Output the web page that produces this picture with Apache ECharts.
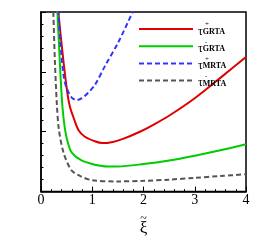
<!DOCTYPE html>
<html><head><meta charset="utf-8">
<script src="https://cdn.jsdelivr.net/npm/echarts@6/dist/echarts.min.js"></script>
<style>html,body{margin:0;padding:0;background:#fff}#c{width:273px;height:242px}</style>
</head><body><div id="c"></div>
<script>
var xTicks = [0, 1, 2, 3, 4];
var seriesNames = ['GRTA+', 'GRTA-', 'MRTA+', 'MRTA-'];
var supers = ['+', '-', '+', '-'];
var subs = ['GRTA', 'GRTA', 'MRTA', 'MRTA'];
var grtaPlus = [[0.32,3.3],[0.34,3.0],[0.40,2.48],[0.47,1.94],[0.53,1.56],[0.57,1.40],[0.65,1.20],[0.73,1.03],[0.85,0.92],[1.05,0.84],[1.2,0.81],[1.4,0.83],[1.6,0.88],[1.93,1.0],[2.2,1.12],[2.52,1.28],[3.0,1.56],[3.5,1.90],[4.0,2.25]];
var grtaMinus = [[0.30,3.4],[0.32,3.0],[0.35,2.48],[0.38,1.94],[0.42,1.40],[0.47,1.03],[0.53,0.80],[0.60,0.65],[0.79,0.52],[1.05,0.45],[1.3,0.42],[1.5,0.42],[2.0,0.46],[2.5,0.52],[3.0,0.60],[3.5,0.69],[4.0,0.79]];
var mrtaPlus = [[0.32,3.3],[0.34,3.0],[0.38,2.48],[0.44,1.94],[0.50,1.73],[0.6,1.57],[0.7,1.53],[0.8,1.56],[0.92,1.65],[1.05,1.78],[1.25,2.10],[1.5,2.48],[1.79,3.0],[1.85,3.1]];
var mrtaMinus = [[0.22,3.4],[0.24,3.0],[0.27,2.2],[0.31,1.45],[0.35,1.03],[0.44,0.65],[0.60,0.35],[0.79,0.25],[1.0,0.19],[1.5,0.17],[2.0,0.18],[2.5,0.20],[3.0,0.23],[3.5,0.26],[4.0,0.29]];

var serif = 'Liberation Serif';
var chart = echarts.init(document.getElementById('c'), null, {renderer: 'canvas'});
function mk(i, data, color, type) {
  return {name: seriesNames[i], type: 'line', data: data, showSymbol: false, symbol: 'none',
    smooth: 0.3,
    clip: true, lineStyle: {color: color, width: 2, type: type}, itemStyle: {color: color}};
}
chart.setOption({
  animation: false,
  grid: {left: 41, right: 27, top: 12, bottom: 45, show: true, borderColor: '#000', borderWidth: 1.5},
  legend: {
    orient: 'vertical', left: 133, top: 16, itemWidth: 54, itemHeight: 14, itemGap: 0.7,
    data: seriesNames,
    itemStyle: {opacity: 0},
    formatter: function (name) {
      var i = seriesNames.indexOf(name);
      return '{p|' + supers[i] + '}\n{t|τ}{s|' + subs[i] + '}';
    },
    textStyle: {
      fontFamily: serif, color: '#000',
      rich: {
        p: {fontSize: 7, lineHeight: 5, padding: [0, 0, 0, 7], fontFamily: serif, color: '#000'},
        t: {fontSize: 12, lineHeight: 9, fontFamily: serif, color: '#000'},
        s: {fontSize: 8, fontWeight: 'bold', lineHeight: 9, verticalAlign: 'bottom', fontFamily: serif, color: '#000'}
      }
    }
  },
  xAxis: {
    type: 'value', min: 0, max: 4, interval: 1,
    name: '{a|~}\n{b|ξ}', nameLocation: 'middle', nameGap: 19,
    nameTextStyle: {fontFamily: serif, color: '#000',
      rich: {a: {fontSize: 12, lineHeight: 5, fontFamily: serif, color: '#000'},
             b: {fontSize: 17, lineHeight: 15, fontFamily: serif, color: '#000'}}},
    axisLine: {lineStyle: {color: '#000', width: 1.5}},
    axisTick: {inside: true, length: 5, lineStyle: {color: '#000'}},
    minorTick: {show: true, splitNumber: 5, length: 2.5, lineStyle: {color: '#000'}},
    splitLine: {show: false},
    axisLabel: {fontFamily: serif, fontSize: 14, color: '#000', margin: 2,
      formatter: function (v) { return xTicks.indexOf(v) >= 0 ? String(v) : ''; }}
  },
  yAxis: {
    type: 'value', min: 0, max: 3, interval: 1,
    axisLine: {show: true, lineStyle: {color: '#000', width: 1.5}},
    axisTick: {show: true, inside: true, length: 5, lineStyle: {color: '#000'}},
    minorTick: {show: true, splitNumber: 5, length: 2.5, lineStyle: {color: '#000'}},
    splitLine: {show: false},
    axisLabel: {show: false}
  },
  series: [
    mk(0, grtaPlus, '#e00000', 'solid'),
    mk(1, grtaMinus, '#00cc00', 'solid'),
    mk(2, mrtaPlus, '#3333ff', [5, 3]),
    mk(3, mrtaMinus, '#555555', [5, 3])
  ]
});
</script></body></html>
